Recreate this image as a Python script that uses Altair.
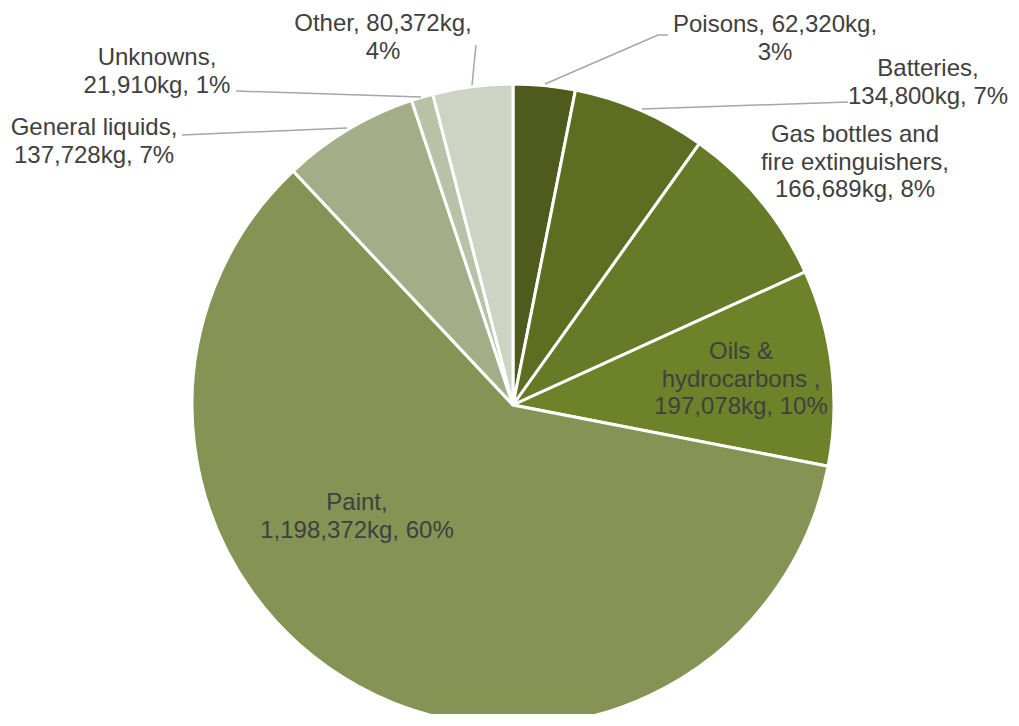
import altair as alt
import pandas as pd

# ---- data ----
categories = ["Poisons", "Batteries", "Gas bottles and fire extinguishers",
              "Oils & hydrocarbons", "Paint", "General liquids", "Unknowns", "Other"]
weights_kg = [62320, 134800, 166689, 197078, 1198372, 137728, 21910, 80372]
percent_labels = ["3%", "7%", "8%", "10%", "60%", "7%", "1%", "4%"]
label_lines = [
    ["Poisons, 62,320kg,", "3%"],
    ["Batteries,", "134,800kg, 7%"],
    ["Gas bottles and", "fire extinguishers,", "166,689kg, 8%"],
    ["Oils &", "hydrocarbons ,", "197,078kg, 10%"],
    ["Paint,", "1,198,372kg, 60%"],
    ["General liquids,", "137,728kg, 7%"],
    ["Unknowns,", "21,910kg, 1%"],
    ["Other, 80,372kg,", "4%"],
]
colors = ["#4E5B1D", "#5D6E22", "#667A27", "#6E8229",
          "#859455", "#A3AD88", "#B9C1A7", "#CDD4C4"]

# ---- layout (page pixel coordinates of label anchors / leader lines) ----
label_x = [775, 928, 855, 741, 357, 94, 157, 383]
label_y = [32, 76, 142, 359, 510, 135, 65, 31]
leader_lines = {
    "Poisons": [(668, 35), (658, 35), (545, 84)],
    "Batteries": [(848, 102), (642, 109)],
    "Other": [(476, 45), (472, 85)],
    "Unknowns": [(236, 91), (421, 97)],
    "General liquids": [(182, 135), (347, 128)],
}

W, H = 1003, 706
M = 8  # page margin
CX, CY, R = 513, 405, 321

pie_df = pd.DataFrame({"category": categories, "kg": weights_kg,
                       "order": list(range(len(categories)))})
lab_df = pd.DataFrame({"category": categories, "text": label_lines,
                       "px": label_x, "py": label_y})
rows = []
for name, pts in leader_lines.items():
    for i, (px, py) in enumerate(pts):
        rows.append({"category": name, "i": i, "px": px, "py": py})
line_df = pd.DataFrame(rows)

xs = alt.Scale(domain=[M, M + W], range=[0, W])
ys = alt.Scale(domain=[M, M + H], range=[0, H])

pie = alt.Chart(pie_df).mark_arc(
    radius=R, stroke="white", strokeWidth=3, x=CX - M, y=CY - M
).encode(
    theta=alt.Theta("kg:Q", stack=True),
    order=alt.Order("order:Q"),
    color=alt.Color("category:N", scale=alt.Scale(domain=categories, range=colors),
                    legend=None),
)

lines = alt.Chart(line_df).mark_line(color="#A6A6A6", strokeWidth=1.5).encode(
    x=alt.X("px:Q", scale=xs, axis=None),
    y=alt.Y("py:Q", scale=ys, axis=None),
    detail="category:N",
    order="i:Q",
)

labels = alt.Chart(lab_df).mark_text(
    font="Liberation Sans", fontSize=24, color="#404040",
    align="center", baseline="alphabetic", lineHeight=27.5
).encode(
    x=alt.X("px:Q", scale=xs, axis=None),
    y=alt.Y("py:Q", scale=ys, axis=None),
    text="text",
)

chart = alt.layer(pie, lines, labels).properties(
    width=W, height=H, padding=0, autosize=alt.AutoSizeParams(type="none")
).configure_view(stroke=None)

chart.save("out.html", embed_options={"renderer": "svg", "actions": False})
